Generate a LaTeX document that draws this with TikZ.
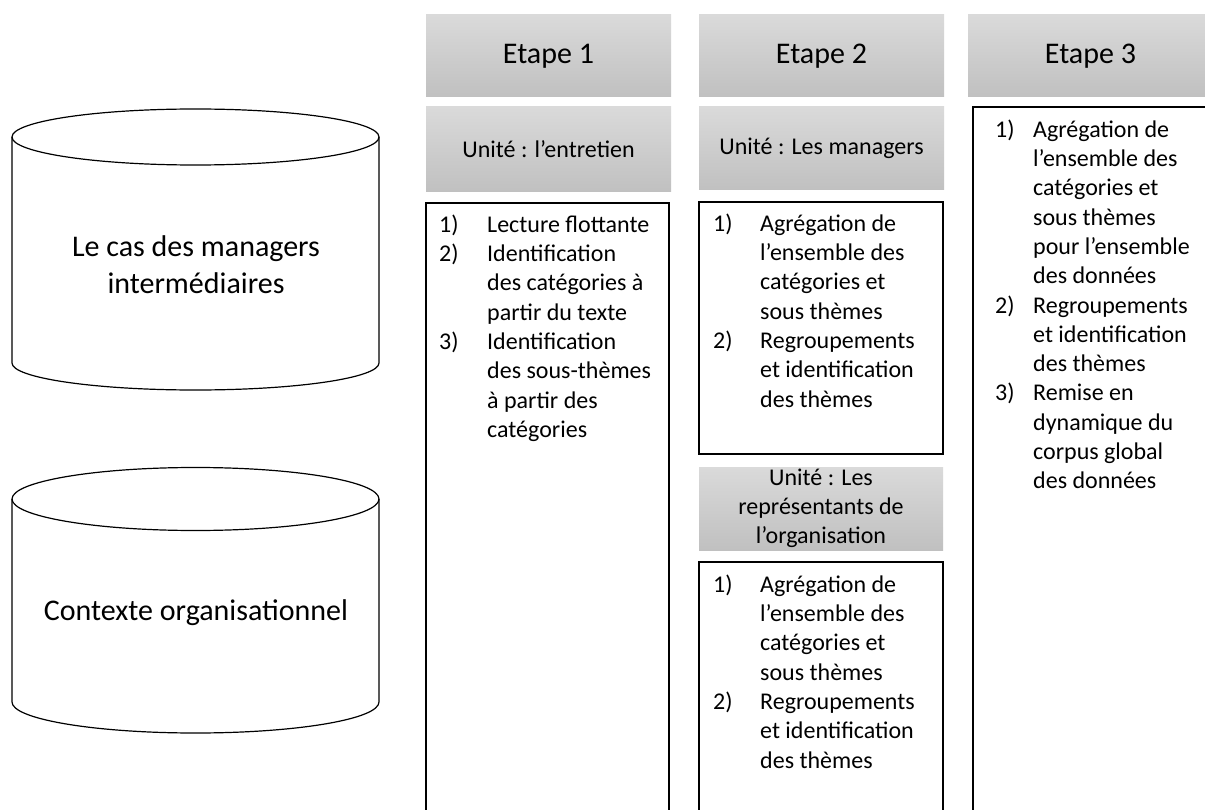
\documentclass[tikz,border=0pt]{standalone}
\usepackage{fontspec}
\setmainfont{Carlito}
\definecolor{boxtop}{RGB}{218,218,218}
\definecolor{boxbot}{RGB}{192,192,192}
\newcommand\nbA[1]{\makebox[48pt][l]{#1}}
\newcommand\ctA{\hspace*{48pt}}
\newcommand\nbB[1]{\makebox[47pt][l]{#1}}
\newcommand\ctB{\hspace*{47pt}}
\newcommand\nbC[1]{\makebox[38pt][l]{#1}}
\newcommand\ctC{\hspace*{38pt}}
\begin{document}
\begin{tikzpicture}[x=1pt,y=-1pt,
  graybox/.style={draw=none, top color=boxtop, bottom color=boxbot, inner sep=0pt, outer sep=0pt, anchor=north west},
  headbox/.style={graybox, minimum width=245pt, minimum height=82pt, font=\fontsize{30}{36}\selectfont},
  unitbox/.style={graybox, font=\fontsize{24}{29.3}\selectfont, align=center},
  listbox/.style={draw=black, line width=1.4pt, fill=white, inner sep=0pt, outer sep=0pt, anchor=north west},
  listtext/.style={anchor=north west, inner sep=0pt, align=left, font=\fontsize{24}{29.3}\selectfont},
  cyl/.style={draw=black, line width=1.2pt},
  cyltext/.style={align=center, inner sep=0pt, font=\fontsize{30}{37}\selectfont}]
\useasboundingbox (0,0) rectangle (1205,810);
\clip (0,0) rectangle (1205,810);
\fill[white] (0,0) rectangle (1205,810);

% cylinders
\draw[cyl] (195.5,137) ellipse [x radius=183.5, y radius=28];
\draw[cyl] (12,137) -- (12,363) .. controls (12,377.9) and (94.15,390) .. (195.5,390)
  .. controls (296.85,390) and (379,377.9) .. (379,363) -- (379,137);
\node[cyltext] (cas) at (196,265) {Le cas des managers\\intermédiaires};

\draw[cyl] (195.5,499) ellipse [x radius=183.5, y radius=31.5];
\draw[cyl] (12,499) -- (12,702) .. controls (12,719.1) and (94.15,733) .. (195.5,733)
  .. controls (296.85,733) and (379,719.1) .. (379,702) -- (379,499);
\node[cyltext] (ctx) at (196,613) {Contexte organisationnel};

% headers
\node[headbox] (e1) at (426,15) {Etape 1};
\node[headbox] (e2) at (699,15) {Etape 2};
\node[headbox] (e3) at (968,15) {Etape 3};

% unit boxes
\node[unitbox, minimum width=245pt, minimum height=85pt] (u1) at (426,107) {Unité : l’entretien};
\node[unitbox, minimum width=245pt, minimum height=83pt] (u2) at (699,107) {Unité : Les managers};
\node[unitbox, minimum width=244pt, minimum height=83pt] (u3) at (699,467) {Unité : Les\\représentants de\\l’organisation};

% list boxes
\node[listbox, minimum width=243pt, minimum height=640pt] (b1) at (426,203) {};
\node[listbox, minimum width=244pt, minimum height=252pt] (b2) at (699,202) {};
\node[listbox, minimum width=244pt, minimum height=280pt] (b3) at (699,562) {};
\node[listbox, minimum width=260pt, minimum height=740pt] (b4) at (973,107) {};

% list texts
\node[listtext] (l1) at (439,211.5) {\strut\nbA{1)}Lecture flottante\\
\nbA{2)}Identification\\
\ctA des catégories à\\
\ctA partir du texte\\
\nbA{3)}Identification\\
\ctA des sous-thèmes\\
\ctA à partir des\\
\ctA catégories};

\node[listtext] (l2) at (713,210.5) {\strut\nbB{1)}Agrégation de\\
\ctB l’ensemble des\\
\ctB catégories et\\
\ctB sous thèmes\\
\nbB{2)}Regroupements\\
\ctB et identification\\
\ctB des thèmes};

\node[listtext] (l3) at (713,571.5) {\strut\nbB{1)}Agrégation de\\
\ctB l’ensemble des\\
\ctB catégories et\\
\ctB sous thèmes\\
\nbB{2)}Regroupements\\
\ctB et identification\\
\ctB des thèmes};

\node[listtext] (l4) at (995,116.5) {\strut\nbC{1)}Agrégation de\\
\ctC l’ensemble des\\
\ctC catégories et\\
\ctC sous thèmes\\
\ctC pour l’ensemble\\
\ctC des données\\
\nbC{2)}Regroupements\\
\ctC et identification\\
\ctC des thèmes\\
\nbC{3)}Remise en\\
\ctC dynamique du\\
\ctC corpus global\\
\ctC des données};
\end{tikzpicture}
\end{document}
